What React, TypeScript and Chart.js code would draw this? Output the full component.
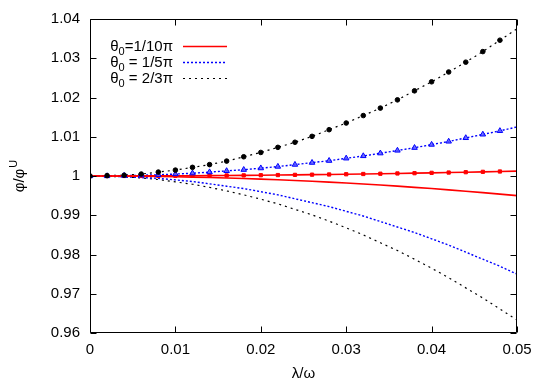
import { useEffect, useRef } from "react";
import { Chart, registerables } from "chart.js";

Chart.register(...registerables);

// λ/ω sample positions
const xValues = [
  0, 0.002, 0.004, 0.006, 0.008, 0.01, 0.012, 0.014, 0.016, 0.018, 0.02, 0.022, 0.024,
  0.026, 0.028, 0.03, 0.032, 0.034, 0.036, 0.038, 0.04, 0.042, 0.044, 0.046, 0.048, 0.05,
];

// θ0 = 1/10π
const redUpper = [
  1, 1.0, 1.00001, 1.00002, 1.00003, 1.00005, 1.00007, 1.0001, 1.00013, 1.00016, 1.0002,
  1.00024, 1.00029, 1.00034, 1.00039, 1.00045, 1.00051, 1.00058, 1.00065, 1.00072, 1.0008,
  1.00088, 1.00097, 1.00106, 1.00115, 1.00125,
];
const redLower = [
  1, 0.99999, 0.99997, 0.99993, 0.99987, 0.9998, 0.99971, 0.99961, 0.99949, 0.99935, 0.9992,
  0.99903, 0.99885, 0.99865, 0.99843, 0.9982, 0.99795, 0.99769, 0.99741, 0.99711, 0.9968,
  0.99647, 0.99613, 0.99577, 0.99539, 0.995,
];
// θ0 = 1/5π
const blueUpper = [
  1, 1.0, 1.0001, 1.0002, 1.0003, 1.0005, 1.0007, 1.001, 1.0013, 1.0016, 1.002, 1.0024,
  1.0029, 1.0034, 1.0039, 1.0045, 1.0051, 1.0058, 1.0065, 1.0072, 1.008, 1.0088, 1.0097,
  1.0106, 1.0115, 1.0125,
];
const blueLower = [
  1, 1.0, 0.9998, 0.9996, 0.9994, 0.999, 0.9986, 0.998, 0.9974, 0.9968, 0.996, 0.9952,
  0.9942, 0.9932, 0.9922, 0.991, 0.9898, 0.9884, 0.987, 0.9856, 0.984, 0.9824, 0.9806,
  0.9788, 0.977, 0.975,
];
// θ0 = 2/3π
const blackUpper = [
  1, 1.0001, 1.0002, 1.0005, 1.001, 1.0015, 1.0022, 1.0029, 1.0038, 1.0049, 1.006, 1.0073,
  1.0086, 1.0101, 1.0118, 1.0135, 1.0154, 1.0173, 1.0194, 1.0217, 1.024, 1.0265, 1.029,
  1.0317, 1.0346, 1.0375,
];
const blackLower = [
  1, 0.9999, 0.9998, 0.9995, 0.9991, 0.9985, 0.9979, 0.9971, 0.9962, 0.9952, 0.9941, 0.9929,
  0.9915, 0.9901, 0.9885, 0.9868, 0.985, 0.983, 0.981, 0.9788, 0.9765, 0.9741, 0.9715,
  0.9689, 0.9661, 0.9633,
];

const markerCount = 25; // markers at 0 … 0.048

const xTicks = [0, 0.01, 0.02, 0.03, 0.04, 0.05];
const yTicks = [0.96, 0.97, 0.98, 0.99, 1, 1.01, 1.02, 1.03, 1.04];

const legendLabels = [
  { base: "θ", sub: "0", rest: "=1/10π" },
  { base: "θ", sub: "0", rest: " = 1/5π" },
  { base: "θ", sub: "0", rest: " = 2/3π" },
];

const RED = "#ff0000";
const BLUE = "#0000ff";
const BLACK = "#000000";
const FONT = "'Liberation Sans', Arial, sans-serif";

const pts = (ys: number[], n = ys.length) =>
  ys.slice(0, n).map((y, i) => ({ x: xValues[i], y }));

const fmt = (v: number) => String(Number(Number(v).toFixed(3)));

const decorPlugin = {
  id: "decor",
  afterDraw(chart: any) {
    const { ctx, chartArea, scales } = chart;
    const { left, right, top, bottom } = chartArea;
    const xs = scales.x;
    const ys = scales.y;
    ctx.save();
    // frame
    ctx.strokeStyle = "#000";
    ctx.lineWidth = 1;
    const L = Math.round(left) + 0.5;
    const R = Math.round(right) - 0.5;
    const T = Math.round(top) + 0.5;
    const B = Math.round(bottom) - 0.5;
    ctx.beginPath();
    ctx.rect(L, T, R - L, B - T);
    ctx.stroke();
    // inward ticks on all sides
    const tl = 6;
    ctx.beginPath();
    xTicks.forEach((v) => {
      const px = Math.round(xs.getPixelForValue(v)) + 0.5;
      ctx.moveTo(px, B);
      ctx.lineTo(px, B - tl);
      ctx.moveTo(px, T);
      ctx.lineTo(px, T + tl);
    });
    yTicks.forEach((v) => {
      const py = Math.round(ys.getPixelForValue(v)) + 0.5;
      ctx.moveTo(L, py);
      ctx.lineTo(L + tl, py);
      ctx.moveTo(R, py);
      ctx.lineTo(R - tl, py);
    });
    ctx.stroke();

    // axis titles
    ctx.fillStyle = "#000";
    ctx.textBaseline = "alphabetic";
    ctx.font = `15px ${FONT}`;
    ctx.textAlign = "center";
    ctx.fillText("λ/ω", (left + right) / 2, 378);

    // y title: φ/φ^U rotated
    ctx.save();
    ctx.translate(24, 176);
    ctx.rotate(-Math.PI / 2);
    ctx.textAlign = "left";
    ctx.font = `15px ${FONT}`;
    const main = "φ/φ";
    const mw = ctx.measureText(main).width;
    ctx.font = `11px ${FONT}`;
    const sw = ctx.measureText("U").width;
    const total = mw + sw + 1;
    ctx.font = `15px ${FONT}`;
    ctx.fillText(main, -total / 2, 0);
    ctx.font = `11px ${FONT}`;
    ctx.fillText("U", -total / 2 + mw + 1, -7);
    ctx.restore();

    // legend
    const textRight = 173;
    const lineX0 = 183;
    const lineX1 = 227;
    const rowsY = [46, 62, 78];
    const styles = [
      { color: RED, dash: [] as number[], w: 1.5 },
      { color: BLUE, dash: [2, 2], w: 1.5 },
      { color: BLACK, dash: [2, 4], w: 1.2 },
    ];
    legendLabels.forEach((lab, i) => {
      const cy = rowsY[i];
      const base = cy + 5;
      ctx.font = `15px ${FONT}`;
      const bw = ctx.measureText(lab.base).width;
      const rw = ctx.measureText(lab.rest).width;
      ctx.font = `11px ${FONT}`;
      const subw = ctx.measureText(lab.sub).width;
      let x0 = textRight - (bw + subw + rw);
      ctx.textAlign = "left";
      ctx.font = `15px ${FONT}`;
      ctx.fillText(lab.base, x0, base);
      ctx.font = `11px ${FONT}`;
      ctx.fillText(lab.sub, x0 + bw, base + 4);
      ctx.font = `15px ${FONT}`;
      ctx.fillText(lab.rest, x0 + bw + subw, base);
      const st = styles[i];
      ctx.strokeStyle = st.color;
      ctx.lineWidth = st.w;
      ctx.setLineDash(st.dash);
      ctx.beginPath();
      ctx.moveTo(lineX0, cy + 0.5);
      ctx.lineTo(lineX1, cy + 0.5);
      ctx.stroke();
      ctx.setLineDash([]);
    });
    ctx.restore();
  },
};

export default function App() {
  const ref = useRef<HTMLCanvasElement | null>(null);

  useEffect(() => {
    if (!ref.current) return;
    const lineDs = (data: number[], color: string, dash: number[], w: number) => ({
      data: pts(data),
      borderColor: color,
      borderWidth: w,
      borderDash: dash,
      pointRadius: 0,
      fill: false,
      tension: 0,
    });
    const markDs = (data: number[], color: string, style: string, r: number, bg: string) => ({
      data: pts(data, markerCount),
      showLine: false,
      pointStyle: style,
      pointRadius: r,
      pointBorderWidth: 1,
      pointBackgroundColor: bg,
      pointBorderColor: color,
      borderColor: color,
      backgroundColor: bg,
    });
    const chart = new Chart(ref.current, {
      type: "line",
      data: {
        datasets: [
          markDs(blackUpper, BLACK, "circle", 2.3, BLACK),
          markDs(blueUpper, BLUE, "triangle", 3.2, "rgba(90,90,255,0.85)"),
          markDs(redUpper, RED, "rect", 2.3, RED),
          lineDs(redUpper, RED, [], 1.6),
          lineDs(redLower, RED, [], 1.6),
          lineDs(blueUpper, BLUE, [2, 2], 1.4),
          lineDs(blueLower, BLUE, [2, 2], 1.4),
          lineDs(blackUpper, BLACK, [2, 4], 1.2),
          lineDs(blackLower, BLACK, [2, 4], 1.2),
        ] as any,
      },
      options: {
        animation: false,
        responsive: false,
        maintainAspectRatio: false,
        devicePixelRatio: 1,
        layout: { padding: { left: 0, right: 28, top: 19, bottom: 0 } },
        plugins: {
          legend: { display: false },
          tooltip: { enabled: false },
        },
        scales: {
          x: {
            type: "linear",
            min: 0,
            max: 0.05,
            grid: { display: false, drawTicks: false },
            border: { display: false },
            afterFit: (s: any) => {
              s.height = 49;
            },
            afterBuildTicks: (s: any) => {
              s.ticks = xTicks.map((v) => ({ value: v }));
            },
            ticks: {
              padding: 8,
              color: "#000",
              font: { family: FONT, size: 15 },
              maxRotation: 0,
              autoSkip: false,
              callback: (v: any) => fmt(v),
            },
          },
          y: {
            type: "linear",
            min: 0.96,
            max: 1.04,
            grid: { display: false, drawTicks: false },
            border: { display: false },
            afterFit: (s: any) => {
              s.width = 90;
            },
            afterBuildTicks: (s: any) => {
              s.ticks = yTicks.map((v) => ({ value: v }));
            },
            ticks: {
              padding: 10,
              color: "#000",
              font: { family: FONT, size: 15 },
              autoSkip: false,
              callback: (v: any) => fmt(v),
            },
          },
        },
      },
      plugins: [decorPlugin],
    });
    return () => chart.destroy();
  }, []);

  return (
    <div style={{ position: "fixed", left: 0, top: 0, width: 545, height: 382, background: "#fff" }}>
      <canvas ref={ref} width={545} height={382} style={{ width: 545, height: 382 }} />
    </div>
  );
}
